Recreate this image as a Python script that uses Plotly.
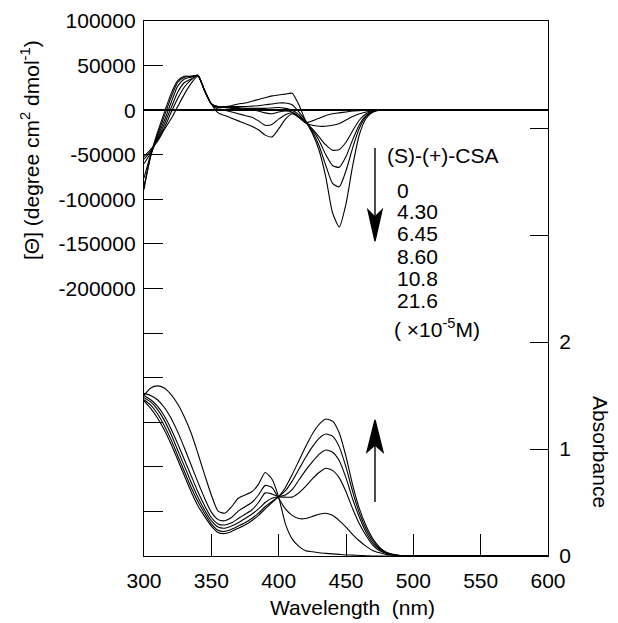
import plotly.graph_objects as go

# ---------------- data ----------------
wavelength = [300, 305, 310, 315, 320, 325, 330, 335, 340, 345, 350, 355, 360, 365, 370,
              375, 380, 385, 390, 395, 400, 405, 410, 415, 420, 425, 430, 435, 440, 445,
              450, 455, 460, 465, 470, 475, 480, 485, 490, 495, 500, 550, 600]

csa_labels = ["0", "4.30", "6.45", "8.60", "10.8", "21.6"]

# CD, [theta] (degree cm2 dmol-1)
cd_0 = [-52000, -44000, -35000, -22000, -10000, 4000, 18000, 30000, 38000, 22000, 7000,
        -3000, -6000, -9000, -12000, -15000, -18000, -22000, -28000, -30000, -21000, -10000,
        -4000, -8000, -14000, -12000, -9000, -6000, -4000, -3000, -2000, -1000, -500, 0, 0,
        0, 0, 0, 0, 0, 0, 0, 0]
cd_1 = [-55000, -46000, -33000, -20000, -3000, 13000, 26000, 34000, 39000, 22000, 7000,
        1000, 0, -2000, -4000, -6000, -8000, -12000, -17000, -16000, -10000, -5000,
        -3000, -8000, -14000, -17000, -18000, -18000, -17000, -15000, -11000, -7000, -4000,
        -2000, -500, 0, 0, 0, 0, 0, 0, 0, 0]
cd_2 = [-60000, -48000, -32000, -16000, 2000, 20000, 31000, 35000, 39000, 22000, 7000,
        3000, 3000, 2000, 2000, 1000, 1000, -1000, -3000, -4000, -2000, -1000,
        -2000, -7000, -14000, -21000, -30000, -39000, -45000, -44000, -36000, -23000, -11000,
        -4000, -1000, 0, 0, 0, 0, 0, 0, 0, 0]
cd_3 = [-76000, -50000, -30000, -12000, 8000, 27000, 35000, 37000, 39000, 22000, 7000,
        3000, 3000, 3000, 3000, 2000, 2000, 2000, 2000, 2500, 3000, 2000,
        0, -5000, -13000, -22000, -34000, -50000, -62000, -64000, -52000, -33000, -16000,
        -6000, -1500, 0, 0, 0, 0, 0, 0, 0, 0]
cd_4 = [-85000, -52000, -28000, -7000, 14000, 31000, 37000, 38000, 39000, 22000, 7000,
        4000, 4000, 4000, 4000, 4000, 4500, 5000, 6000, 7000, 8000, 8000,
        6000, -2000, -12000, -24000, -40000, -62000, -82000, -86000, -68000, -42000, -20000,
        -7000, -2000, 0, 0, 0, 0, 0, 0, 0, 0]
cd_5 = [-89000, -50000, -25000, -3000, 18000, 33000, 38000, 38000, 39000, 22000, 7000,
        4000, 4000, 5000, 7000, 8000, 10000, 12000, 14000, 16000, 17000, 18000,
        19000, 6000, -12000, -26000, -45000, -75000, -115000, -131000, -105000, -62000, -27000,
        -9000, -2000, 500, 500, 0, 0, 0, 0, 0, 0]

# Absorbance
abs_0 = [1.50, 1.57, 1.59, 1.57, 1.51, 1.42, 1.30, 1.15, 0.96, 0.76, 0.57, 0.42, 0.40, 0.46,
         0.54, 0.57, 0.60, 0.67, 0.78, 0.72, 0.55, 0.30, 0.16, 0.09, 0.05, 0.04, 0.03, 0.025,
         0.02, 0.015, 0.01, 0.008, 0.005, 0.003, 0.0, 0.0, 0.0, 0.0, 0.0, 0.0, 0.0, 0.0, 0.0]
abs_1 = [1.52, 1.50, 1.46, 1.39, 1.29, 1.16, 1.01, 0.85, 0.69, 0.54, 0.41, 0.34, 0.33, 0.36,
         0.42, 0.46, 0.50, 0.57, 0.66, 0.64, 0.54, 0.44, 0.38, 0.35, 0.35, 0.37, 0.39, 0.40,
         0.38, 0.33, 0.27, 0.20, 0.14, 0.09, 0.05, 0.03, 0.015, 0.008, 0.003, 0.0, 0.0, 0.0, 0.0]
abs_2 = [1.50, 1.46, 1.40, 1.31, 1.19, 1.05, 0.90, 0.75, 0.60, 0.47, 0.36, 0.30, 0.29, 0.31,
         0.35, 0.39, 0.43, 0.50, 0.59, 0.58, 0.555, 0.55, 0.55, 0.59, 0.65, 0.72, 0.78, 0.82,
         0.80, 0.73, 0.60, 0.44, 0.30, 0.19, 0.10, 0.05, 0.025, 0.01, 0.004, 0.0, 0.0, 0.0, 0.0]
abs_3 = [1.48, 1.44, 1.37, 1.27, 1.14, 0.99, 0.84, 0.69, 0.55, 0.43, 0.33, 0.27, 0.26, 0.28,
         0.31, 0.35, 0.39, 0.44, 0.50, 0.54, 0.555, 0.57, 0.62, 0.71, 0.80, 0.88, 0.95, 0.99,
         0.97, 0.89, 0.73, 0.53, 0.36, 0.22, 0.12, 0.06, 0.025, 0.01, 0.004, 0.0, 0.0, 0.0, 0.0]
abs_4 = [1.46, 1.41, 1.33, 1.22, 1.09, 0.94, 0.79, 0.64, 0.51, 0.40, 0.30, 0.24, 0.23, 0.25,
         0.28, 0.31, 0.35, 0.40, 0.46, 0.51, 0.555, 0.61, 0.70, 0.81, 0.92, 1.02, 1.10, 1.14,
         1.12, 1.02, 0.83, 0.60, 0.40, 0.25, 0.14, 0.07, 0.03, 0.012, 0.005, 0.0, 0.0, 0.0, 0.0]
abs_5 = [1.45, 1.38, 1.29, 1.18, 1.05, 0.90, 0.75, 0.60, 0.47, 0.37, 0.28, 0.22, 0.21, 0.23,
         0.26, 0.29, 0.33, 0.38, 0.44, 0.50, 0.555, 0.64, 0.76, 0.89, 1.02, 1.14, 1.23, 1.28,
         1.26, 1.15, 0.93, 0.66, 0.44, 0.28, 0.16, 0.08, 0.035, 0.015, 0.005, 0.0, 0.0, 0.0, 0.0]

cd_series = [cd_0, cd_1, cd_2, cd_3, cd_4, cd_5]
abs_series = [abs_0, abs_1, abs_2, abs_3, abs_4, abs_5]

cd_tickvals = [100000, 50000, 0, -50000, -100000, -150000, -200000,
               -250000, -300000, -350000, -400000, -450000]
cd_ticktext = ["100000", "50000", "0", "-50000", "-100000", "-150000", "-200000",
               "", "", "", "", ""]
abs_tickvals = [0, 1, 2, 3, 4, 5]
abs_ticktext = ["0", "1", "2", "", "", ""]
x_tickvals = [300, 350, 400, 450, 500, 550, 600]

# ---------------- figure ----------------
# page body has an 8px margin, so the figure is laid out 8px smaller / shifted
OFF = 8
W, H = 618 - OFF, 623 - OFF
L, R, T, B = 144 - OFF, 70, 21 - OFF, 67
PW, PH = W - L - R, H - T - B


def px(xp):  # page pixel -> paper x
    return (xp - OFF - L) / PW


def py(yp):  # page pixel -> paper y
    return (H - B - (yp - OFF)) / PH


FONT = "Liberation Sans, Arial, Helvetica, sans-serif"
fig = go.Figure()

for i, ys in enumerate(cd_series):
    fig.add_trace(go.Scatter(x=wavelength, y=ys, mode="lines", name="CD " + csa_labels[i],
                             line=dict(color="black", width=1.1, shape="spline", smoothing=0.6),
                             yaxis="y"))
for i, ys in enumerate(abs_series):
    fig.add_trace(go.Scatter(x=wavelength, y=ys, mode="lines", name="Abs " + csa_labels[i],
                             line=dict(color="black", width=1.1, shape="spline", smoothing=0.6),
                             yaxis="y2"))

axis_common = dict(showgrid=False, showline=True, linecolor="black", linewidth=1.3,
                   ticks="inside", tickcolor="black", tickwidth=1.3, automargin=False,
                   tickfont=dict(family=FONT, size=21, color="black"))

fig.update_layout(
    width=W, height=H,
    margin=dict(l=L, r=R, t=T, b=B, pad=0, autoexpand=False),
    paper_bgcolor="white", plot_bgcolor="white",
    showlegend=False,
    font=dict(family=FONT, size=21, color="black"),
    xaxis=dict(range=[300, 600], tickvals=x_tickvals, ticklen=22, mirror=True,
               zeroline=False, ticklabelstandoff=6, **axis_common),
    yaxis=dict(range=[-500000, 100000], tickvals=cd_tickvals, ticktext=cd_ticktext,
               ticklen=19, zeroline=True, zerolinecolor="black", zerolinewidth=2.2,
               ticklabelstandoff=3, **axis_common),
    yaxis2=dict(range=[0, 5], tickvals=abs_tickvals, ticktext=abs_ticktext,
                overlaying="y", side="right", ticklen=18, zeroline=False,
                ticklabelstandoff=6, **axis_common),
)

ann = []
ann.append(dict(text="[Θ] (degree cm<sup>2</sup> dmol<sup>-1</sup>)", x=px(30), y=py(150),
                textangle=-90, font=dict(size=21)))
ann.append(dict(text="Absorbance", x=px(601), y=py(452), textangle=90, font=dict(size=21)))
ann.append(dict(text="Wavelength\u00a0\u00a0(nm)", x=px(352), y=py(607), font=dict(size=21)))
ann.append(dict(text="(S)-(+)-CSA", x=px(385), y=py(155), xanchor="left", font=dict(size=21)))
label_y = [190, 212, 233, 256, 278, 300]
for lab, yy in zip(csa_labels, label_y):
    ann.append(dict(text=lab, x=px(395), y=py(yy), xanchor="left", font=dict(size=21)))
ann.append(dict(text="( ×10<sup>-5</sup>M)", x=px(392), y=py(328), xanchor="left",
                font=dict(size=21)))
for a in ann:
    a.update(xref="paper", yref="paper", showarrow=False)
    a.setdefault("xanchor", "center")
    a.setdefault("yanchor", "middle")
fig.update_layout(annotations=ann)

# arrows
shapes = []
shapes.append(dict(type="line", x0=px(375), x1=px(375), y0=py(148), y1=py(218)))
shapes.append(dict(type="path",
                   path=f"M {px(368)},{py(210)} L {px(375)},{py(217)} L {px(382)},{py(210)} "
                        f"L {px(375)},{py(241)} Z", fillcolor="black"))
shapes.append(dict(type="line", x0=px(375), x1=px(375), y0=py(502), y1=py(445)))
shapes.append(dict(type="path",
                   path=f"M {px(367)},{py(452)} L {px(375)},{py(445)} L {px(383)},{py(452)} "
                        f"L {px(375)},{py(420)} Z", fillcolor="black"))
for s in shapes:
    s.update(xref="paper", yref="paper", line=dict(color="black", width=1.4))
fig.update_layout(shapes=shapes)

fig.write_html("out.html")
